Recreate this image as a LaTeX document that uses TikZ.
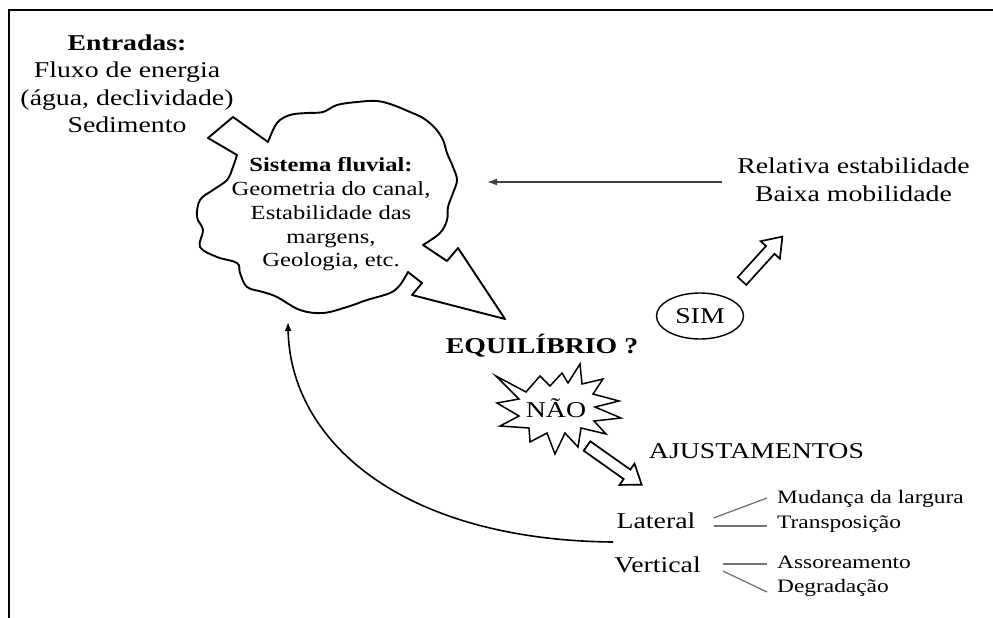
\documentclass[tikz,border=0pt]{standalone}
\usepackage{fontspec}
\setmainfont{Liberation Serif}[FakeStretch=1.23]
\usetikzlibrary{arrows.meta,shapes.geometric}

\tikzset{
  txt/.style={inner sep=0pt, text=black},
  big/.style={font=\fontsize{22.6}{27.5}\selectfont},
  mid/.style={font=\fontsize{20}{23.7}\selectfont},
  small/.style={font=\fontsize{19}{24}\selectfont},
  outline/.style={draw=black, line width=1.9pt, line join=round, fill=white},
  burst/.style={draw=black, line width=1.5pt, line join=miter, miter limit=20, fill=white},
  branch/.style={draw=black!55, line width=1.3pt},
  feedback/.style={draw=black, line width=1.6pt, -{Latex[length=9pt,width=7pt]}},
  pointer/.style={draw=black!75, line width=1.4pt, -{Latex[length=10pt,width=7pt]}},
  hollow/.style={draw=black, line width=1.7pt, fill=white, line join=miter},
  pics/hollowarrow/.style={code={
    \draw[hollow] (0,-5.75) -- (#1-18,-5.75) -- (#1-18,-13) -- (#1,0)
      -- (#1-18,13) -- (#1-18,5.75) -- (0,5.75) -- cycle;
  }},
}

\begin{document}
\begin{tikzpicture}[x=1pt, y=-1pt]
\useasboundingbox (0,0) rectangle (993,618);

% frame
\draw[line width=2pt] (8.5,618) -- (8.5,10) -- (993,10);

% river system cloud with the input notch and the output arrow
\draw[outline] (268,142) -- (233,117) -- (208,138) -- (237,155)
  -- plot[smooth, tension=0.6] coordinates {(237,155) (233,167) (227,180) (213,190)
     (200,200) (197,217) (203,230) (200,247) (217,257) (237,263) (240,273)
     (247,287) (263,292) (277,297) (300,310) (323,313) (347,307) (367,300)
     (390,293) (400,285) (408,272)}
  -- (422,283) -- (412,295) -- (505,319) -- (458,248) -- (447,261) -- (423,245)
  -- plot[smooth, tension=0.6] coordinates {(423,245) (440,233) (447,220) (448,207)
     (453,193) (457,180) (453,167) (447,153) (443,140) (435,128) (423,118)
     (410,112) (393,105) (377,101) (357,102) (337,105) (323,112) (307,113)
     (290,115) (277,123) (268,142)}
  -- cycle;

\node[txt, mid, align=center] (system) at (331,214.5)
  {\textbf{Sistema fluvial:}\\Geometria do canal,\\Estabilidade das\\margens,\\Geologia, etc.};

\node[txt, big, align=center] (inputs) at (127,84)
  {\textbf{Entradas:}\\Fluxo de energia\\(água, declividade)\\Sedimento};

\node[txt, big, align=center] (stable) at (853.5,180)
  {Relativa estabilidade\\Baixa mobilidade};

\node[txt, big, font=\fontsize{22.6}{27.5}\selectfont\bfseries, anchor=base] (eq) at (542,353) {EQUILÍBRIO ?};

% starburst around NÃO
\draw[burst] (496,376) -- (526,392) -- (540,376) -- (550,386) -- (562,373)
  -- (568,383) -- (580,364) -- (582,384) -- (603,379) -- (593,394)
  -- (619,401) -- (595,407) -- (621,418) -- (594,421) -- (606,434)
  -- (581,428) -- (578,447) -- (565,433) -- (555,454) -- (547,433)
  -- (530,442) -- (529,428) -- (500,426) -- (519,416) -- (497,403)
  -- (519,399) -- cycle;
\node[txt, big, anchor=base] (nao) at (556,417) {NÃO};

\node[draw=black, line width=1.4pt, ellipse, minimum width=87pt, minimum height=46pt,
  inner sep=0pt, big] (sim) at (700,316) {SIM};

\node[txt, big, anchor=base] (ajust) at (756.5,458) {AJUSTAMENTOS};
\node[txt, big, anchor=base] (lat) at (656,528) {Lateral};
\node[txt, big, anchor=base] (vert) at (657.5,572) {Vertical};

\node[txt, small, anchor=base west] (mud) at (777,503) {Mudança da largura};
\node[txt, small, anchor=base west] (trans) at (777,528) {Transposição};
\node[txt, small, anchor=base west] (assor) at (777,568) {Assoreamento};
\node[txt, small, anchor=base west] (degr) at (777,592) {Degradação};

% hollow arrows
\pic[rotate=-35.3] at (587,446) {hollowarrow=67};
\pic[rotate=47.7] at (742,281) {hollowarrow=60};

% branches of the adjustments
\draw[branch] ([xshift=18pt,yshift=10pt]lat.base east) -- ([xshift=-10pt,yshift=5pt]mud.base west);
\draw[branch] ([xshift=18pt,yshift=2pt]lat.base east) -- ([xshift=-10pt,yshift=2pt]trans.base west);
\draw[branch] ([xshift=22pt,yshift=8pt]vert.base east) -- ([xshift=-10pt,yshift=4pt]assor.base west);
\draw[branch] ([xshift=22pt,yshift=1pt]vert.base east) -- ([xshift=-10pt,yshift=0pt]degr.base west);

% stability feeds back into the system
\coordinate (cloudin) at (487,182);
\draw[pointer] ([xshift=-15pt,yshift=-2pt]stable.west) -- (cloudin);

% adjustments loop back to the system
\coordinate (back) at (613,542);
\coordinate (cloudback) at (288,322);
\draw[feedback] (back) .. controls (400,540) and (290,440) .. (cloudback);
\end{tikzpicture}
\end{document}
